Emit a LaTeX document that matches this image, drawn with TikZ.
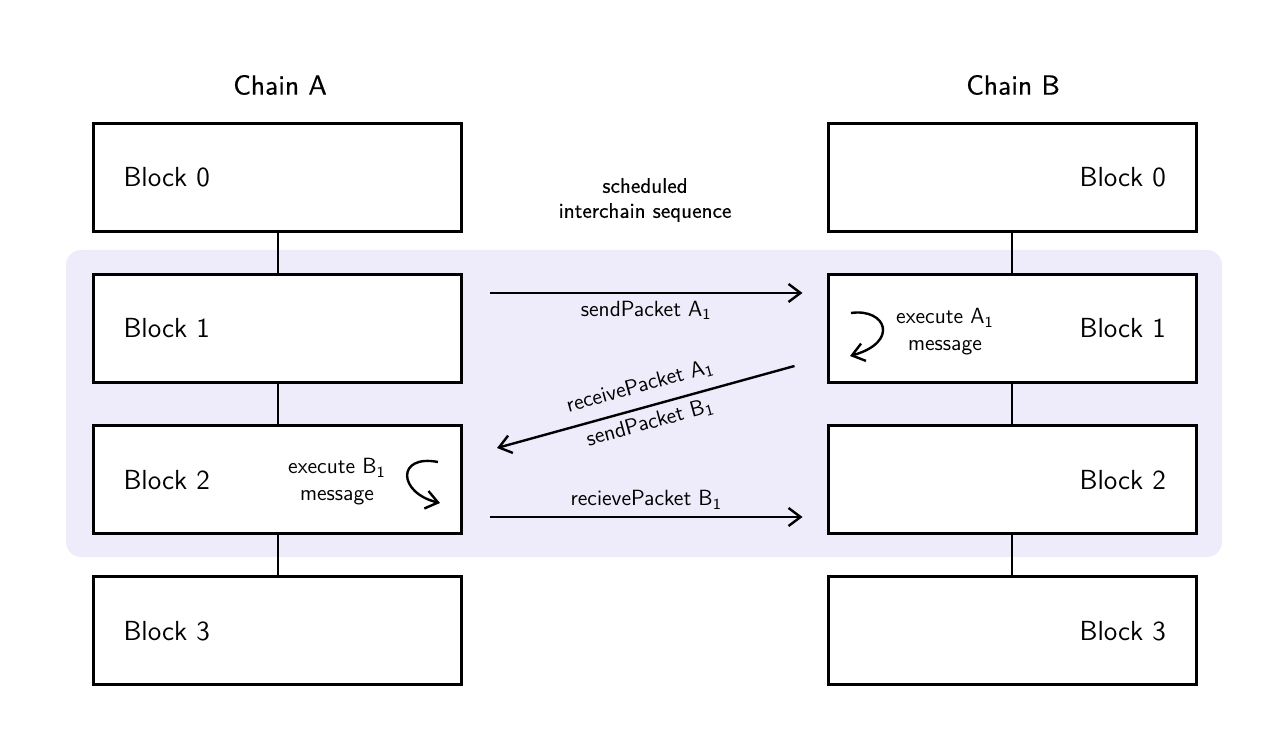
\documentclass[tikz,border=0pt]{standalone}
\usepackage{fontspec}
\usetikzlibrary{arrows.meta}
\renewcommand{\familydefault}{\sfdefault}
\newfontface\headface{lmsans10-regular.otf}[FakeBold=0.5]
\definecolor{seqbg}{RGB}{238,235,250}
\begin{document}
\begin{tikzpicture}[x=0.5pt,y=0.5pt,
    blockA/.style={draw,line width=1.5pt,fill=white,minimum height=54pt,
      text width=154pt,inner xsep=15pt,align=left,font=\fontsize{13.8}{15}\selectfont},
    blockB/.style={blockA,align=right},
    chain/.style={font=\headface\fontsize{13.8}{15}\selectfont},
    msg/.style={line width=1.2pt,-{Straight Barb[length=6pt,width=9pt]}},
    small/.style={font=\fontsize{11}{13.5}\selectfont,align=center}]
    \useasboundingbox (0,0) rectangle (1280,738);
      \fill[seqbg,rounded corners=7.5pt] (66,181) rectangle (1222,488);
      \draw
        (280,653) node[chain] (ca){Chain A}
        (1013,653) node[chain] (cb){Chain B}
        (277.5,560.5) node[blockA] (a0){Block 0}
        (277.5,409.5) node[blockA] (a1){Block 1}
        (277.5,258) node[blockA] (a2){Block 2}
        (277.5,107) node[blockA] (a3){Block 3}
        (1012,560.5) node[blockB] (b0){Block 0}
        (1012,409.5) node[blockB] (b1){Block 1}
        (1012,258) node[blockB] (b2){Block 2}
        (1012,107) node[blockB] (b3){Block 3}
        (645,538) node[small,font=\headface\fontsize{10.6}{12.5}\selectfont] (seq){scheduled\\interchain sequence}
        (945,406) node[small] (exa){execute A\textsubscript{1}\\message}
        (337,256) node[small] (exb){execute B\textsubscript{1}\\message};
      \begin{scope}[line width=1pt]
        \draw (a0) -- (a1);
        \draw (a1) -- (a2);
        \draw (a2) -- (a3);
        \draw (b0) -- (b1);
        \draw (b1) -- (b2);
        \draw (b2) -- (b3);
      \end{scope}
      \begin{scope}[msg]
        \draw ([shift={(27,35.5)}]a1.east) -- node[small,below]{sendPacket A\textsubscript{1}} ([shift={(-24,35.5)}]b1.west);
        \draw ([shift={(-32,-37.5)}]b1.west) -- node[small,above,sloped,inner sep=5.5pt]{receivePacket A\textsubscript{1}}
          node[small,below,sloped,inner sep=3pt]{sendPacket B\textsubscript{1}} ([shift={(34,32)}]a2.east);
        \draw ([shift={(27,-37)}]a2.east) -- node[small,above]{recievePacket B\textsubscript{1}} ([shift={(-24,-37)}]b2.west);
        % execute loops
        \coordinate (la) at (851,425);
        \coordinate (la') at (850,382);
        \draw (la) .. controls (886,430) and (900,396) .. (la');
        \coordinate (lb) at (438,276);
        \coordinate (lb') at (440,235);
        \draw (lb) .. controls (396,284) and (398,245) .. (lb');
      \end{scope}
    \end{tikzpicture}
\end{document}
